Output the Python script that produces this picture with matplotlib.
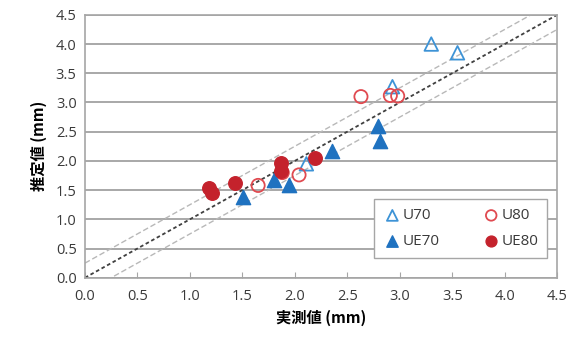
import matplotlib

matplotlib.use("Agg")
import matplotlib.pyplot as plt
import numpy as np

plt.rcParams["font.family"] = ["Noto Sans CJK JP", "DejaVu Sans"]

u70_x = [3.30, 3.55, 2.93, 2.11]
u70_y = [4.00, 3.85, 3.27, 1.95]
u80_x = [2.63, 2.91, 2.98, 1.65, 2.04, 1.88]
u80_y = [3.10, 3.12, 3.11, 1.58, 1.76, 1.80]
ue70_x = [2.79, 2.81, 2.35, 1.51, 1.80, 1.94]
ue70_y = [2.60, 2.34, 2.17, 1.38, 1.68, 1.58]
ue80_x = [1.18, 1.21, 1.43, 1.87, 1.87, 2.19]
ue80_y = [1.54, 1.45, 1.62, 1.96, 1.82, 2.05]

ticks = np.arange(0, 4.51, 0.5)
band = 0.25

BLUE = "#1f72c0"
BLUE_OPEN = "#3d93d6"
RED = "#c4222c"
RED_OPEN = "#e04a50"
GRAY = "#a6a6a6"
LATIN = ["Open Sans", "DejaVu Sans"]

fig = plt.figure(figsize=(5.78, 3.45), dpi=100)
ax = fig.add_axes([0.147, 0.195, 0.817, 0.762])

line = np.array([0, 4.5])
ax.plot(line, line, color="#404040", lw=1.3, ls=(0, (2, 1.5)), zorder=2)
ax.plot(line, line + band, color="#b8b8b8", lw=1.0, ls=(0, (4, 2)), zorder=2)
ax.plot(line, line - band, color="#b8b8b8", lw=1.0, ls=(0, (4, 2)), zorder=2)

h_u70 = ax.scatter(u70_x, u70_y, marker="^", s=95, facecolors="none", edgecolors=BLUE_OPEN, linewidths=1.3, label="U70", zorder=3)
h_u80 = ax.scatter(u80_x, u80_y, marker="o", s=90, facecolors="none", edgecolors=RED_OPEN, linewidths=1.3, label="U80", zorder=3)
h_ue70 = ax.scatter(ue70_x, ue70_y, marker="^", s=105, color=BLUE, label="UE70", zorder=4)
h_ue80 = ax.scatter(ue80_x, ue80_y, marker="o", s=95, color=RED, label="UE80", zorder=4)

ax.set_xlim(0, 4.5)
ax.set_ylim(0, 4.5)
ax.set_xticks(ticks)
ax.set_yticks(ticks)
ax.set_xticklabels([f"{t:.1f}" for t in ticks], family=LATIN)
ax.set_yticklabels([f"{t:.1f}" for t in ticks], family=LATIN)
ax.tick_params(axis="x", direction="in", length=4, color=GRAY, labelsize=10.5, labelcolor="#3a3a3a", pad=8)
ax.tick_params(axis="y", length=0, labelsize=10.5, labelcolor="#3a3a3a", pad=6)
ax.grid(axis="y", color="#9a9a9a", lw=1.2, zorder=0)
ax.set_axisbelow(True)
for spine in ax.spines.values():
    spine.set_color(GRAY)
    spine.set_linewidth(1.2)

ax.set_xlabel("実測値 (mm)", fontsize=11, fontweight="bold", labelpad=4)
ax.set_ylabel("推定値 (mm)", fontsize=11, fontweight="bold", labelpad=6)

# row major legend: U70 U80 / UE70 UE80
leg = ax.legend([h_u70, h_ue70, h_u80, h_ue80], ["U70", "UE70", "U80", "UE80"],
                ncol=2, loc="lower right", bbox_to_anchor=(0.995, 0.045), fancybox=False,
                framealpha=1, edgecolor=GRAY, handletextpad=0.05, markerscale=0.8,
                columnspacing=2.8, handlelength=1.2, borderpad=0.6, labelspacing=0.7,
                prop={"family": LATIN, "size": 11})
for text in leg.get_texts():
    text.set_color("#3a3a3a")

fig.savefig("out.png", dpi=100)
